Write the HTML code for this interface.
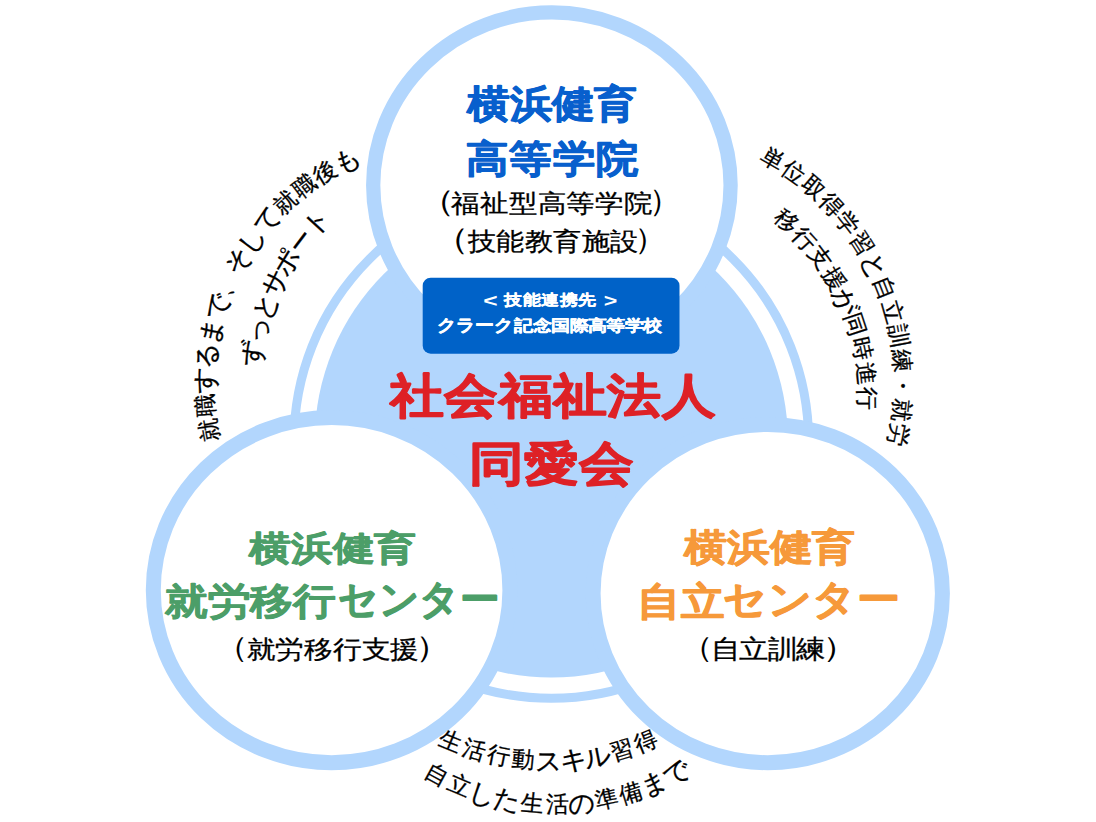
<!DOCTYPE html>
<html lang="ja"><head><meta charset="utf-8"><style>
html,body{margin:0;padding:0;background:#fff;width:1096px;height:822px;overflow:hidden}
svg{display:block;font-family:"Liberation Sans",sans-serif}
</style></head><body>
<svg width="1096" height="822" viewBox="0 0 1096 822">

<circle cx="551.3" cy="441" r="257.3" fill="none" stroke="#b2d6fd" stroke-width="9"/>
<circle cx="551.3" cy="441" r="236.6" fill="#b2d6fd"/>
<ellipse cx="551.9" cy="185.3" rx="178.7" ry="172.85" fill="#fff" stroke="#b2d6fd" stroke-width="14.3"/>
<ellipse cx="331.6" cy="590.15" rx="178.3" ry="172.55" fill="#fff" stroke="#b2d6fd" stroke-width="15"/>
<ellipse cx="767.75" cy="593.55" rx="174.65" ry="169.15" fill="#fff" stroke="#b2d6fd" stroke-width="15"/>
<rect x="422.7" y="277.7" width="256.8" height="76" rx="8" fill="#0062c8"/>

<text transform="matrix(1.1258 0 0 1 467.42 116.82)" x="0" y="0" font-size="37.90" font-weight="bold" fill="#085fcd" stroke="#085fcd" stroke-width="0.90" stroke-linejoin="round">横浜健育</text><text transform="matrix(1.1163 0 0 1 466.28 171.91)" x="0" y="0" font-size="38.24" font-weight="bold" fill="#085fcd" stroke="#085fcd" stroke-width="0.90" stroke-linejoin="round">高等学院</text><text transform="matrix(1.1384 0 0 1 451.44 212.42)" x="0" y="0" font-size="25.03" font-weight="normal" fill="#000000" stroke="#000000" stroke-width="0.30" stroke-linejoin="round">福祉型高等学院</text><text transform="matrix(1.2452 0 0 1 418.20 210.85)" x="0" y="0" font-size="29.71" font-weight="normal" fill="#000000">（</text><text transform="matrix(1.0285 0 0 1 649.22 211.09)" x="0" y="0" font-size="30.63" font-weight="normal" fill="#000000">）</text><text transform="matrix(1.1244 0 0 1 467.55 250.37)" x="0" y="0" font-size="25.20" font-weight="normal" fill="#000000" stroke="#000000" stroke-width="0.30" stroke-linejoin="round">技能教育施設</text><text transform="matrix(1.2524 0 0 1 432.17 249.01)" x="0" y="0" font-size="29.94" font-weight="normal" fill="#000000">（</text><text transform="matrix(1.1145 0 0 1 634.42 249.39)" x="0" y="0" font-size="30.06" font-weight="normal" fill="#000000">）</text><text transform="matrix(1.3595 0 0 1 483.37 306.86)" x="0" y="0" font-size="18.10" font-weight="bold" fill="#ffffff">&lt;</text><text transform="matrix(1.1947 0 0 1 504.34 305.11)" x="0" y="0" font-size="15.45" font-weight="bold" fill="#ffffff" stroke="#ffffff" stroke-width="0.35" stroke-linejoin="round">技能連携先</text><text transform="matrix(1.2821 0 0 1 603.84 306.86)" x="0" y="0" font-size="18.10" font-weight="bold" fill="#ffffff">&gt;</text><text transform="matrix(1.1930 0 0 1 514.27 330.98)" x="0" y="0" font-size="15.66" font-weight="bold" fill="#ffffff" stroke="#ffffff" stroke-width="0.35" stroke-linejoin="round">記念国際高等学校</text><text transform="matrix(1.1119 0 0 1 436.83 330.70)" x="0" y="0" font-size="17.00" font-weight="bold" fill="#ffffff" stroke="#ffffff" stroke-width="0.50" stroke-linejoin="round">クラーク</text><text transform="matrix(1.1454 0 0 1 389.90 411.64)" x="0" y="0" font-size="47.22" font-weight="bold" fill="#de2126" stroke="#de2126" stroke-width="1.20" stroke-linejoin="round">社会福祉法人</text><text transform="matrix(1.1678 0 0 1 469.49 479.56)" x="0" y="0" font-size="46.90" font-weight="bold" fill="#de2126" stroke="#de2126" stroke-width="1.20" stroke-linejoin="round">同愛会</text><text transform="matrix(1.2321 0 0 1 249.05 559.92)" x="0" y="0" font-size="34.19" font-weight="bold" fill="#4c9e68" stroke="#4c9e68" stroke-width="0.80" stroke-linejoin="round">横浜健育</text><text transform="matrix(1.1501 0 0 1 165.00 613.83)" x="0" y="0" font-size="36.98" font-weight="bold" fill="#4c9e68" stroke="#4c9e68" stroke-width="0.80" stroke-linejoin="round">就労移行</text><text transform="matrix(0.9893 0 0 1 337.80 613.34)" x="0" y="0" font-size="40.43" font-weight="bold" fill="#4c9e68" stroke="#4c9e68" stroke-width="1.00" stroke-linejoin="round">センター</text><text transform="matrix(1.1438 0 0 1 246.54 657.71)" x="0" y="0" font-size="24.92" font-weight="normal" fill="#000000" stroke="#000000" stroke-width="0.30" stroke-linejoin="round">就労移行支援</text><text transform="matrix(1.1531 0 0 1 215.05 657.29)" x="0" y="0" font-size="29.49" font-weight="normal" fill="#000000">（</text><text transform="matrix(1.2209 0 0 1 414.55 657.29)" x="0" y="0" font-size="29.49" font-weight="normal" fill="#000000">）</text><text transform="matrix(1.1610 0 0 1 683.87 560.43)" x="0" y="0" font-size="36.95" font-weight="bold" fill="#f6993a" stroke="#f6993a" stroke-width="0.80" stroke-linejoin="round">横浜健育</text><text transform="matrix(1.1178 0 0 1 637.36 615.06)" x="0" y="0" font-size="38.93" font-weight="bold" fill="#f6993a" stroke="#f6993a" stroke-width="0.80" stroke-linejoin="round">自立</text><text transform="matrix(1.0775 0 0 1 723.24 613.48)" x="0" y="0" font-size="40.11" font-weight="bold" fill="#f6993a" stroke="#f6993a" stroke-width="1.00" stroke-linejoin="round">センター</text><text transform="matrix(1.1271 0 0 1 710.55 658.46)" x="0" y="0" font-size="25.54" font-weight="normal" fill="#000000" stroke="#000000" stroke-width="0.30" stroke-linejoin="round">自立訓練</text><text transform="matrix(1.1531 0 0 1 680.05 657.19)" x="0" y="0" font-size="29.49" font-weight="normal" fill="#000000">（</text><text transform="matrix(1.2718 0 0 1 822.42 657.19)" x="0" y="0" font-size="29.49" font-weight="normal" fill="#000000">）</text>
<g font-size="23" fill="#000000" stroke="#000000" stroke-width="0.3" text-anchor="middle"><text transform="translate(208.65,430.04) rotate(259.78)" y="8.16">就</text><text transform="translate(205.44,405.17) rotate(265.51)" y="8.16">職</text><text transform="translate(204.73,380.11) rotate(271.24)" y="9.39" font-size="26.45">す</text><text transform="translate(206.53,355.10) rotate(276.98)" y="9.39" font-size="26.45">る</text><text transform="translate(210.81,330.40) rotate(282.71)" y="9.39" font-size="26.45">ま</text><text transform="translate(217.54,306.25) rotate(288.44)" y="9.39" font-size="26.45">で</text><text transform="translate(226.65,282.89) rotate(294.17)" y="8.16">、</text><text transform="translate(238.04,260.56) rotate(299.90)" y="9.39" font-size="26.45">そ</text><text transform="translate(251.61,239.47) rotate(305.63)" y="9.39" font-size="26.45">し</text><text transform="translate(267.22,219.85) rotate(311.36)" y="9.39" font-size="26.45">て</text><text transform="translate(284.71,201.88) rotate(317.09)" y="8.16">就</text><text transform="translate(303.90,185.75) rotate(322.82)" y="8.16">職</text><text transform="translate(324.61,171.62) rotate(328.55)" y="8.16">後</text><text transform="translate(346.62,159.62) rotate(334.28)" y="9.39" font-size="26.45">も</text></g><g font-size="23" fill="#000000" stroke="#000000" stroke-width="0.3" text-anchor="middle"><text transform="translate(252.14,353.35) rotate(-81.00)" y="9.39" font-size="26.45">ず</text><text transform="translate(257.19,329.18) rotate(-75.37)" y="9.39" font-size="26.45">っ</text><text transform="translate(264.59,305.62) rotate(-69.75)" y="9.39" font-size="26.45">と</text><text transform="translate(274.27,282.89) rotate(-64.13)" y="9.39" font-size="26.45">サ</text><text transform="translate(286.12,261.22) rotate(-58.51)" y="9.39" font-size="26.45">ポ</text><text transform="translate(300.04,240.82) rotate(-52.88)" y="8.16">ー</text><text transform="translate(315.89,221.88) rotate(-47.26)" y="9.39" font-size="26.45">ト</text></g><g font-size="23" fill="#000000" stroke="#000000" stroke-width="0.3" text-anchor="middle"><text transform="translate(772.97,158.51) rotate(29.81)" y="8.16">単</text><text transform="translate(793.99,171.93) rotate(35.31)" y="8.16">位</text><text transform="translate(813.62,187.31) rotate(40.82)" y="8.16">取</text><text transform="translate(831.69,204.50) rotate(46.32)" y="8.16">得</text><text transform="translate(848.03,223.34) rotate(51.82)" y="8.16">学</text><text transform="translate(862.49,243.66) rotate(57.33)" y="8.16">習</text><text transform="translate(874.93,265.28) rotate(62.83)" y="9.39" font-size="26.45">と</text><text transform="translate(885.24,287.99) rotate(68.33)" y="8.16">自</text><text transform="translate(893.32,311.58) rotate(73.84)" y="8.16">立</text><text transform="translate(899.11,335.84) rotate(79.34)" y="8.16">訓</text><text transform="translate(902.54,360.54) rotate(84.84)" y="8.16">練</text><text transform="translate(903.58,385.46) rotate(90.34)" y="8.16">・</text><text transform="translate(902.24,410.36) rotate(95.85)" y="8.16">就</text><text transform="translate(898.51,435.02) rotate(101.35)" y="8.16">労</text></g><g font-size="23" fill="#000000" stroke="#000000" stroke-width="0.3" text-anchor="middle"><text transform="translate(787.06,220.86) rotate(41.59)" y="8.16">移</text><text transform="translate(804.94,238.49) rotate(47.59)" y="8.16">行</text><text transform="translate(820.89,257.90) rotate(53.60)" y="8.16">支</text><text transform="translate(834.71,278.87) rotate(59.61)" y="8.16">援</text><text transform="translate(846.26,301.17) rotate(65.62)" y="9.39" font-size="26.45">が</text><text transform="translate(855.42,324.56) rotate(71.62)" y="8.16">同</text><text transform="translate(862.08,348.78) rotate(77.63)" y="8.16">時</text><text transform="translate(866.17,373.56) rotate(83.64)" y="8.16">進</text><text transform="translate(867.64,398.63) rotate(89.64)" y="8.16">行</text></g><g font-size="23" fill="#000000" stroke="#000000" stroke-width="0.3" text-anchor="middle"><text transform="translate(450.82,741.22) rotate(22.34)" y="8.16">生</text><text transform="translate(474.34,749.57) rotate(16.78)" y="8.16">活</text><text transform="translate(498.57,755.61) rotate(11.22)" y="8.16">行</text><text transform="translate(523.26,759.27) rotate(5.65)" y="8.16">動</text><text transform="translate(548.19,760.52) rotate(0.09)" y="9.39" font-size="26.45">ス</text><text transform="translate(573.13,759.35) rotate(-5.48)" y="9.39" font-size="26.45">キ</text><text transform="translate(597.83,755.77) rotate(-11.04)" y="9.39" font-size="26.45">ル</text><text transform="translate(622.07,749.80) rotate(-16.60)" y="8.16">習</text><text transform="translate(645.62,741.52) rotate(-22.17)" y="8.16">得</text></g><g font-size="23" fill="#000000" stroke="#000000" stroke-width="0.3" text-anchor="middle"><text transform="translate(437.00,774.15) rotate(28.57)" y="8.16">自</text><text transform="translate(459.52,784.98) rotate(22.76)" y="8.16">立</text><text transform="translate(483.02,793.46) rotate(16.96)" y="9.39" font-size="26.45">し</text><text transform="translate(507.26,799.53) rotate(11.15)" y="9.39" font-size="26.45">た</text><text transform="translate(531.98,803.11) rotate(5.34)" y="8.16">生</text><text transform="translate(556.95,804.18) rotate(-0.46)" y="8.16">活</text><text transform="translate(581.89,802.71) rotate(-6.27)" y="9.39" font-size="26.45">の</text><text transform="translate(606.55,798.72) rotate(-12.08)" y="8.16">準</text><text transform="translate(630.69,792.27) rotate(-17.88)" y="8.16">備</text><text transform="translate(654.05,783.40) rotate(-23.69)" y="9.39" font-size="26.45">ま</text><text transform="translate(676.39,772.21) rotate(-29.50)" y="9.39" font-size="26.45">で</text></g>
</svg>
</body></html>
